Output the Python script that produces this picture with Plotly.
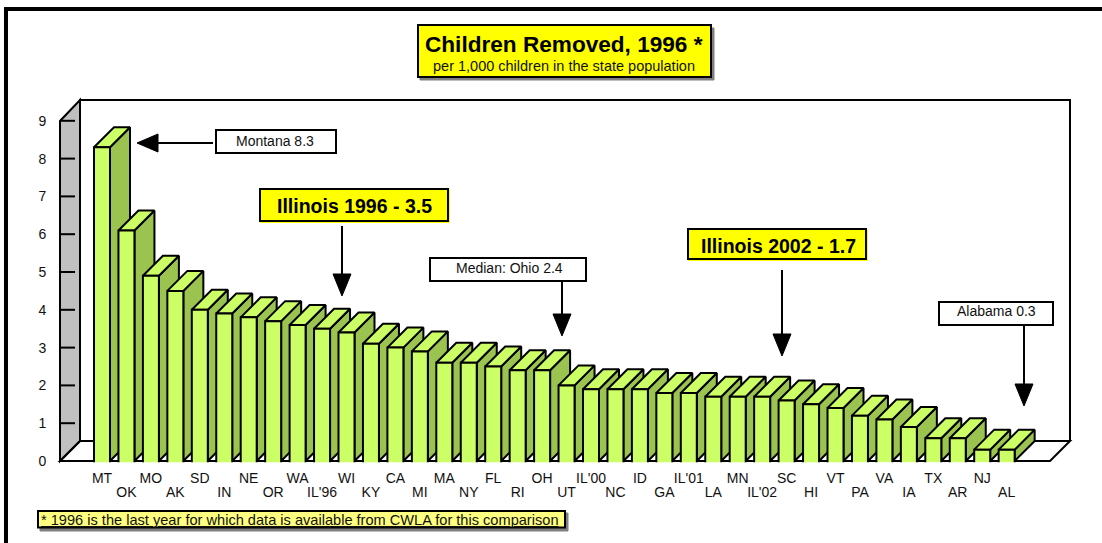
import plotly.graph_objects as go

states = ["MT","OK","MO","AK","SD","IN","NE","OR","WA","IL'96","WI","KY","CA","MI","MA","NY","FL","RI","OH","UT",
          "IL'00","NC","ID","GA","IL'01","LA","MN","IL'02","SC","HI","VT","PA","VA","IA","TX","AR","NJ","AL"]
rates = [8.3,6.1,4.9,4.5,4.0,3.9,3.8,3.7,3.6,3.5,3.4,3.1,3.0,2.9,2.6,2.6,2.5,2.4,2.4,2.0,
         1.9,1.9,1.9,1.8,1.8,1.7,1.7,1.7,1.6,1.5,1.4,1.2,1.1,0.9,0.6,0.6,0.3,0.3]
y_ticks = list(range(10))

W, H = 1102, 543
FONT = "Liberation Sans"
FRONT, SIDE, TOP = "#CCFF66", "#9BC34F", "#CCFF66"
# axis calibration in pixels
X0, XSTEP = 102.0, 24.45
Y0, YSTEP = 461.0, 37.8
BARW = 16 / XSTEP
DX, DY = 20 / XSTEP, 20 / YSTEP

def px(x): return x / W
def py(y): return 1 - y / H

fig = go.Figure()
for i, v in enumerate(rates):
    l, r = i - BARW / 2, i + BARW / 2
    common = dict(mode="lines", fill="toself", hoverinfo="skip", showlegend=False,
                  line=dict(color="black", width=2, simplify=False))
    fig.add_trace(go.Scatter(x=[r, r, r + DX, r + DX, r], y=[0, v, v + DY, DY, 0], fillcolor=SIDE, **common))
    fig.add_trace(go.Scatter(x=[l, l + DX, r + DX, r, l], y=[v, v + DY, v + DY, v, v], fillcolor=TOP, **common))
    # front face: the open path leaves the bottom edge unstroked
    fig.add_trace(go.Scatter(x=[l, l, r, r], y=[-0.03, v, v, -0.03], fillcolor=FRONT, **common))

shapes = []
def poly(points, fill=None, color="black", width=2, layer="above", closed=True):
    d = "M" + " L".join(f"{px(x):.5f},{py(y):.5f}" for x, y in points) + (" Z" if closed else "")
    shapes.append(dict(type="path", xref="paper", yref="paper", path=d, fillcolor=fill or "rgba(0,0,0,0)",
                       line=dict(color=color, width=width), layer=layer))
def rect(x0, y0, x1, y1, fill, color="black", width=2):
    shapes.append(dict(type="rect", xref="paper", yref="paper", x0=px(x0), x1=px(x1), y0=py(y0), y1=py(y1),
                       fillcolor=fill, line=dict(color=color, width=width), layer="above"))
def label(x, y, text, size, bold=False, color="#111111"):
    t = f"<b>{text}</b>" if bold else text
    return dict(xref="paper", yref="paper", x=px(x), y=py(y), text=t, showarrow=False,
                xanchor="center", yanchor="middle", font=dict(family=FONT, size=size, color=color))

# frame
poly([(6, 543), (6, 9), (1102, 9)], width=4, layer="below", closed=False)
# walls and floor
poly([(60, 461), (60, 121), (80, 100), (80, 441)], fill="#C0C0C0", layer="below")
poly([(80, 441), (80, 100), (1070, 100), (1070, 441)], layer="below", closed=False)
poly([(60, 461), (1050, 461), (1070, 441), (80, 441)], layer="below")
for t in y_ticks[1:]:
    yy = Y0 - YSTEP * t
    poly([(60, yy), (75, yy)], layer="below", closed=False)

annotations = []
# title
rect(420, 28, 714, 80, "#808080", color="#808080", width=1)
rect(418, 25, 711, 77, "#FFFF00", width=2)
annotations += [label(564, 44, "Children Removed, 1996 *", 22.6, bold=True, color="black"),
                label(564, 66, "per 1,000 children in the state population", 14.5)]
# callouts
rect(216, 130, 336, 153, "white")
annotations.append(label(275, 141, "Montana 8.3", 14))
rect(430, 258, 586, 281, "white")
annotations.append(label(510, 268, "Median: Ohio 2.4", 14))
rect(939, 302, 1053, 325, "white")
annotations.append(label(996, 311, "Alabama 0.3", 14))
for box in [(260, 189, 448, 221), (688, 229, 866, 259)]:
    rect(box[0] + 1, box[1] + 1, box[2] + 1, box[3] + 1, "#FFFF00", color="#FFFF00", width=2)
    rect(*box, "#FFFF00")
annotations += [label(354, 206, "Illinois 1996 - 3.5", 19.5, bold=True, color="black"),
                label(778, 246, "Illinois 2002 - 1.7", 19.5, bold=True, color="black")]
# arrows
poly([(213, 143), (158, 143)], closed=False)
poly([(137, 143), (158, 134), (158, 152)], fill="black", width=1)
for xa, y_start, tip in [(342, 226, 296), (562, 281, 336), (782, 270, 356), (1024, 325, 406)]:
    poly([(xa, y_start), (xa, tip - 22)], closed=False)
    poly([(xa, tip), (xa - 9, tip - 22), (xa + 9, tip - 22)], fill="black", width=1)
# footnote
rect(40, 513, 568, 531, "#808080", color="#808080", width=1)
rect(38, 511, 565, 527.5, "#FFFF80", width=2)
annotations.append(dict(xref="paper", yref="paper", x=px(39), y=py(520), xanchor="left", yanchor="middle",
                        showarrow=False, text="<u>* 1996 is the last year for which data is available from CWLA for this comparison</u>",
                        font=dict(family=FONT, size=14.6, color="#111111")))

x_range = [(0 - X0) / XSTEP, (W - X0) / XSTEP]
y_range = [(Y0 - H) / YSTEP, Y0 / YSTEP]
CLEAR = "rgba(0,0,0,0)"
def xaxis_opts(vals, texts, ticklen, **extra):
    return dict(range=x_range, domain=[0, 1], showgrid=False, zeroline=False, showline=False, anchor="free",
                position=py(Y0), tickmode="array", tickvals=vals, ticktext=texts, ticks="outside", ticklen=ticklen,
                tickcolor=CLEAR, tickangle=0, tickfont=dict(family=FONT, size=14, color="#111111"), **extra)

idx = list(range(len(states)))
fig.add_trace(go.Scatter(x=[0], y=[0], xaxis="x2", mode="markers", marker=dict(opacity=0), hoverinfo="skip", showlegend=False))
fig.update_layout(
    width=W, height=H, autosize=False, margin=dict(l=0, r=0, t=0, b=0), showlegend=False,
    paper_bgcolor="white", plot_bgcolor="white", hovermode=False,
    xaxis=xaxis_opts(idx[0::2], states[0::2], 4),
    xaxis2=xaxis_opts(idx[1::2], states[1::2], 18, overlaying="x"),
    yaxis=dict(range=y_range, domain=[0, 1], showgrid=False, zeroline=False, showline=False, anchor="free",
               position=px(60), tickmode="array", tickvals=y_ticks, ticks="outside", ticklen=11, tickcolor=CLEAR,
               tickfont=dict(family=FONT, size=14, color="#111111")),
    shapes=shapes, annotations=annotations,
)
fig.write_html("out.html", config={"displayModeBar": False},
               post_script="document.body.style.margin='0';")
